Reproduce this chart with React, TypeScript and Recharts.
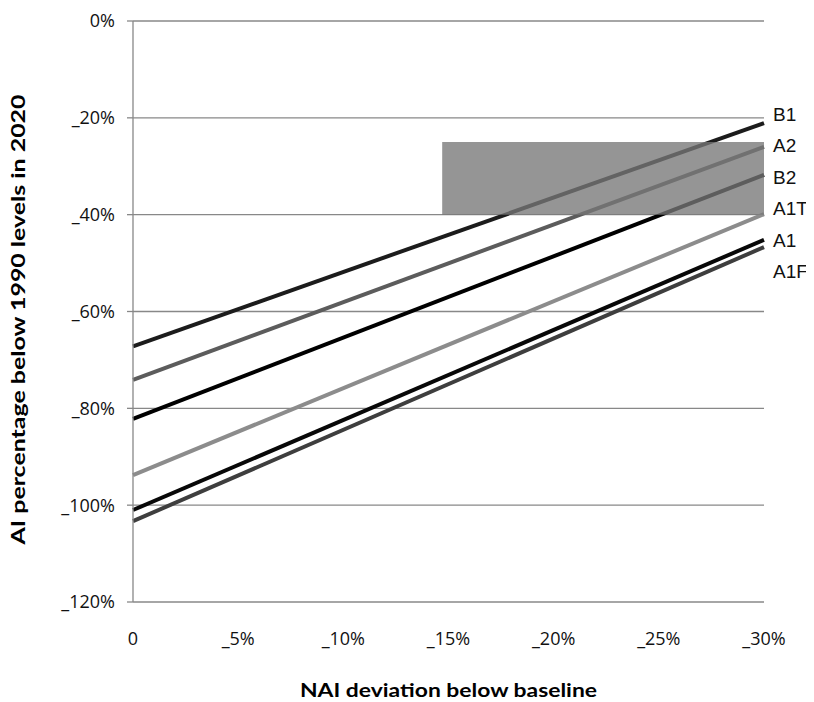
import React from 'react';
import { LineChart, Line, XAxis, YAxis, CartesianGrid, ReferenceArea, Legend } from 'recharts';

// ---- data ----
const xValues = [0, 30];
const seriesNames = ['B1', 'A2', 'B2', 'A1T', 'A1', 'A1F'];
const B1 = [-67.2, -21.1];
const A2 = [-74.1, -26.0];
const B2 = [-82.2, -31.8];
const A1T = [-93.8, -39.9];
const A1 = [-101.0, -45.2];
const A1F = [-103.3, -46.7];
const seriesValues = [B1, A2, B2, A1T, A1, A1F];
const seriesColors = ['#1c1c1c', '#5c5c5c', '#000000', '#8c8c8c', '#080808', '#3e3e3e'];

const xTicks = [0, 5, 10, 15, 20, 25, 30];
const xTickLabels = ['0', '_5%', '_10%', '_15%', '_20%', '_25%', '_30%'];
const yTicks = [-120, -100, -80, -60, -40, -20, 0];
const yTickLabels = ['_120%', '_100%', '_80%', '_60%', '_40%', '_20%', '0%'];

const bandX = [14.7, 30];
const bandY = [-40, -25];

const xTitle = 'NAI deviation below baseline';
const yTitle = 'AI percentage below 1990 levels in 2020';

const data = xValues.map((x, i) => {
  const row: Record<string, number> = { x };
  seriesNames.forEach((n, j) => {
    row[n] = seriesValues[j][i];
  });
  return row;
});

const tickFont = '"Open Sans", "Liberation Sans", sans-serif';
const titleFont = 'Lato, "Liberation Sans", sans-serif';

const TopTick = (props: any) => {
  const { x, y } = props;
  return <line x1={x} x2={x} y1={y} y2={y + 8} stroke="#888" strokeWidth={1.3} />;
};

const LegendContent = () => {
  return (
    <div style={{ fontFamily: '"Liberation Sans", Arial, sans-serif', fontSize: 19, color: '#111' }}>
      {seriesNames.map((n) => (
        <div key={n} style={{ height: 31.4, lineHeight: '31.4px', whiteSpace: 'nowrap' }}>
          {n}
        </div>
      ))}
    </div>
  );
};

export default function App() {
  return (
    <LineChart
      width={806}
      height={694}
      data={data}
      margin={{ top: 13, right: 50, bottom: 0, left: 0 }}
      style={{ background: '#fff' }}
    >
      <CartesianGrid vertical={false} stroke="#888" strokeWidth={1.3} />
      <XAxis
        xAxisId="top"
        orientation="top"
        type="number"
        dataKey="x"
        domain={[0, 30]}
        ticks={xTicks}
        height={0}
        tickSize={0}
        tickMargin={0}
        tickLine={false}
        axisLine={{ stroke: '#888', strokeWidth: 1.3 }}
        tick={<TopTick />}
      />
      <XAxis
        type="number"
        dataKey="x"
        domain={[0, 30]}
        ticks={xTicks}
        tickFormatter={(v: number) => xTickLabels[xTicks.indexOf(v)]}
        height={100}
        tickSize={0}
        tickMargin={30}
        tickLine={false}
        axisLine={false}
        interval={0}
        tick={{ fontFamily: tickFont, fontSize: 18, fill: '#111' }}
        label={{
          content: (p: any) => {
            const vb = p.viewBox;
            const cx = vb.x + vb.width / 2;
            const cy = vb.y + 88;
            return (
              <text
                x={cx}
                y={cy}
                textAnchor="middle"
                dominantBaseline="central"
                fontFamily={titleFont}
                fontWeight="bold"
                fontSize={18}
                fill="#000"
                textLength={297}
                lengthAdjust="spacingAndGlyphs"
              >
                {xTitle}
              </text>
            );
          },
        }}
      />
      <YAxis
        type="number"
        domain={[-120, 0]}
        ticks={yTicks}
        tickFormatter={(v: number) => yTickLabels[yTicks.indexOf(v)]}
        width={125}
        interval={0}
        tickSize={6}
        tickMargin={12}
        tickLine={{ stroke: '#888', strokeWidth: 1.3 }}
        axisLine={{ stroke: '#888', strokeWidth: 1.3 }}
        tick={{ fontFamily: tickFont, fontSize: 18, fill: '#111' }}
        label={{
          content: (p: any) => {
            const vb = p.viewBox;
            const cx = 10;
            const cy = vb.y + vb.height / 2 + 8;
            return (
              <text
                x={cx}
                y={cy}
                transform={`rotate(-90 ${cx} ${cy})`}
                textAnchor="middle"
                dominantBaseline="central"
                fontFamily={titleFont}
                fontWeight="bold"
                fontSize={18}
                fill="#000"
                textLength={450}
                lengthAdjust="spacingAndGlyphs"
              >
                {yTitle}
              </text>
            );
          },
        }}
      />
      {seriesNames.map((n, i) => (
        <Line
          key={n}
          dataKey={n}
          name={n}
          type="linear"
          stroke={seriesColors[i]}
          strokeWidth={4}
          dot={false}
          activeDot={false}
          isAnimationActive={false}
        />
      ))}
      <ReferenceArea
        x1={bandX[0]}
        x2={bandX[1]}
        y1={bandY[0]}
        y2={bandY[1]}
        fill="#777"
        fillOpacity={0.78}
        stroke="none"
        ifOverflow="extendDomain"
        zIndex={1000}
      />
      <Legend
        layout="vertical"
        align="center"
        verticalAlign="middle"
        wrapperStyle={{ left: 765, top: 91, width: 60 }}
        content={<LegendContent />}
      />
    </LineChart>
  );
}
